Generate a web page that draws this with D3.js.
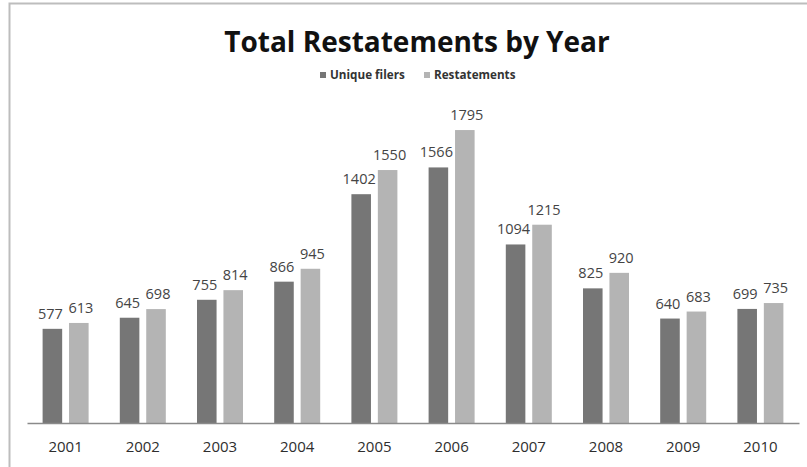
<!DOCTYPE html>
<html>
<head>
<meta charset="utf-8">
<script src="https://cdn.jsdelivr.net/npm/d3@7"></script>
<style>
  body { margin: 0; background: #fff; }
  text { font-family: "Open Sans", "DejaVu Sans", sans-serif; }
</style>
</head>
<body>
<div id="chart"></div>
<script>
var years = ["2001", "2002", "2003", "2004", "2005", "2006", "2007", "2008", "2009", "2010"];
var uniqueFilers = [577, 645, 755, 866, 1402, 1566, 1094, 825, 640, 699];
var restatements = [613, 698, 814, 945, 1550, 1795, 1215, 920, 683, 735];
var seriesNames = ["Unique filers", "Restatements"];
var colors = ["#767676", "#b4b4b4"];

var width = 807, height = 467;

var svg = d3.select("#chart").append("svg")
    .attr("width", width)
    .attr("height", height);

// frame
svg.append("rect")
    .attr("x", 9.5).attr("y", 3.5)
    .attr("width", width).attr("height", height)
    .attr("fill", "#fff")
    .attr("stroke", "#bdbdbd")
    .attr("stroke-width", 2);

var x = d3.scaleBand().domain(years).range([27, 799]);
var inner = d3.scaleBand().domain(seriesNames).range([x.bandwidth() / 2 - 23, x.bandwidth() / 2 + 23]).paddingInner(0.26);
var y = d3.scaleLinear().domain([0, 2000]).range([423, 96.6]);

var data = years.map(function (yr, i) {
    return {year: yr, values: [uniqueFilers[i], restatements[i]]};
});

var groups = svg.selectAll("g.year")
    .data(data).enter().append("g")
    .attr("class", "year")
    .attr("transform", function (d) { return "translate(" + x(d.year) + ",0)"; });

groups.selectAll("rect")
    .data(function (d) { return d.values.map(function (v, j) { return {name: seriesNames[j], v: v, j: j}; }); })
    .enter().append("rect")
    .attr("x", function (d) { return inner(d.name); })
    .attr("width", inner.bandwidth())
    .attr("y", function (d) { return y(d.v); })
    .attr("height", function (d) { return y(0) - y(d.v); })
    .attr("fill", function (d) { return colors[d.j]; });

groups.selectAll("text.val")
    .data(function (d) { return d.values.map(function (v, j) { return {name: seriesNames[j], v: v, j: j}; }); })
    .enter().append("text")
    .attr("class", "val")
    .attr("x", function (d) { return inner(d.name) + inner.bandwidth() / 2 + (d.j === 0 ? -2 : 2); })
    .attr("y", function (d) { return y(d.v) - 10; })
    .attr("text-anchor", "middle")
    .attr("font-size", 14.5)
    .attr("fill", "#444")
    .text(function (d) { return d.v; });

// x axis
var xAxis = svg.append("g")
    .attr("transform", "translate(0," + y(0) + ")")
    .call(d3.axisBottom(x).tickSize(0).tickPadding(18));
xAxis.select(".domain").attr("stroke", "#8a8a8a").attr("stroke-width", 1.5);
xAxis.selectAll("text")
    .attr("font-size", 15)
    .attr("fill", "#2e2e2e")
    .style("font-family", "'Open Sans', 'DejaVu Sans', sans-serif");

// title
svg.append("text")
    .attr("x", 417).attr("y", 52)
    .attr("text-anchor", "middle")
    .attr("font-size", 28)
    .attr("font-weight", "bold")
    .attr("fill", "#111")
    .text("Total Restatements by Year");

// legend
var legendX = [320, 424];
var legend = svg.selectAll("g.legend")
    .data(seriesNames).enter().append("g")
    .attr("class", "legend")
    .attr("transform", function (d, i) { return "translate(" + legendX[i] + ",72)"; });
legend.append("rect")
    .attr("width", 6).attr("height", 6)
    .attr("y", 0)
    .attr("fill", function (d, i) { return colors[i]; });
legend.append("text")
    .attr("x", 10).attr("y", 7)
    .attr("font-size", 11.7)
    .attr("font-weight", "bold")
    .attr("fill", "#333")
    .text(function (d) { return d; });
</script>
</body>
</html>
